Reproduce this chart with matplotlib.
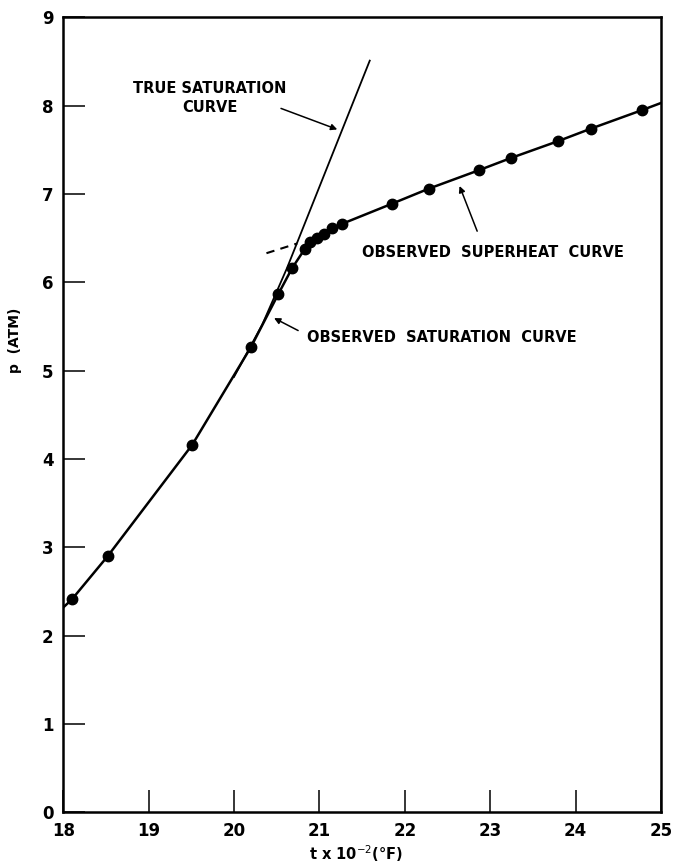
import matplotlib.pyplot as plt

# observed points, t x 10^-2 (F) vs p (atm)
obs_t = [18.10, 18.52, 19.51, 20.20, 20.52, 20.68, 20.83, 20.89, 20.97,
         21.05, 21.15, 21.26, 21.85, 22.28, 22.87, 23.25, 23.80, 24.18, 24.78]
obs_p = [2.41, 2.90, 4.16, 5.27, 5.87, 6.16, 6.38, 6.46, 6.50,
         6.55, 6.61, 6.66, 6.89, 7.06, 7.27, 7.41, 7.60, 7.74, 7.95]

# drawn curve ends at the frame
curve_start = (18.0, 2.32)
curve_end = (25.0, 8.03)

# true saturation curve
true_t = [20.00, 20.33, 20.62, 21.59]
true_p = [4.93, 5.52, 6.16, 8.51]

# dashed extrapolation of superheat curve
ext_t = [20.38, 20.74]
ext_p = [6.33, 6.44]

xticks = list(range(18, 26))
yticks = list(range(0, 10))

fig = plt.figure(figsize=(6.73, 8.67), dpi=100)
ax = fig.add_axes([0.094, 0.063, 0.888, 0.917])

line_t = [curve_start[0]] + obs_t + [curve_end[0]]
line_p = [curve_start[1]] + obs_p + [curve_end[1]]
ax.plot(line_t, line_p, color='black', lw=1.8, zorder=3)
ax.plot(obs_t, obs_p, 'o', color='black', ms=7.5, zorder=4)
ax.plot(true_t, true_p, color='black', lw=1.3, zorder=2)
ax.plot(ext_t, ext_p, color='black', lw=1.5, ls=(0, (4, 3)), zorder=2)

lab = dict(fontsize=10.5, fontweight='bold', color='black')
ax.text(19.72, 8.09, 'TRUE SATURATION\nCURVE', ha='center', va='center',
        linespacing=1.3, **lab)
ax.text(21.50, 6.34, 'OBSERVED  SUPERHEAT  CURVE', ha='left', va='center', **lab)
ax.text(20.85, 5.38, 'OBSERVED  SATURATION  CURVE', ha='left', va='center', **lab)

arr = dict(arrowstyle='-|>', color='black', lw=1.1, mutation_scale=9)
ax.annotate('', xy=(21.24, 7.72), xytext=(20.52, 7.98), arrowprops=arr)
ax.annotate('', xy=(22.63, 7.12), xytext=(22.86, 6.55), arrowprops=arr)
ax.annotate('', xy=(20.44, 5.61), xytext=(20.78, 5.44), arrowprops=arr)

ax.set_xlim(18, 25)
ax.set_ylim(0, 9)
ax.set_xticks(xticks)
ax.set_yticks(yticks)
ax.set_xticklabels([str(v) for v in xticks], fontsize=12, fontweight='bold')
ax.set_yticklabels([str(v) for v in yticks], fontsize=12, fontweight='bold')
ax.tick_params(direction='in', length=16, width=1.1, pad=7)
for s in ax.spines.values():
    s.set_linewidth(1.8)

ax.set_xlabel(r't x 10$^{-2}$(°F)', fontsize=10.5, fontweight='bold')
ax.xaxis.label.set_va('center')
ax.xaxis.set_label_coords(0.49, -0.052)
ax.set_ylabel('p  (ATM)', fontsize=10, fontweight='bold')
ax.yaxis.set_label_coords(-0.069, 0.594)

fig.savefig('out.png', dpi=100)
